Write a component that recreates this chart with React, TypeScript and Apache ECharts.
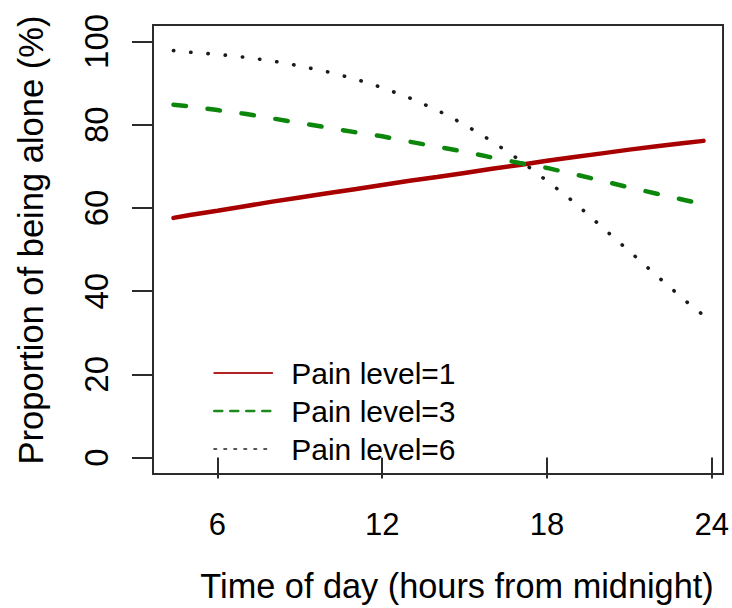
import React, { useEffect, useRef } from "react";
import * as echarts from "echarts";

const hours = [4.4, 5, 6, 7, 8, 9, 10, 11, 12, 13, 14, 15, 16, 17, 18, 19, 20, 21, 22, 23, 23.7];
const painLevel1 = [57.6, 58.3, 59.3, 60.4, 61.5, 62.5, 63.5, 64.5, 65.5, 66.5, 67.4, 68.4, 69.4, 70.3, 71.3, 72.2, 73.1, 74.0, 74.8, 75.6, 76.1];
const painLevel3 = [84.8, 84.4, 83.5, 82.6, 81.5, 80.4, 79.3, 78.2, 77.2, 75.9, 74.7, 73.5, 72.1, 70.8, 69.6, 68.1, 66.5, 64.9, 63.4, 61.9, 60.9];
const painLevel6 = [97.8, 97.4, 96.9, 96.2, 95.3, 94.1, 92.7, 91.0, 88.9, 86.4, 83.5, 80.0, 76.0, 71.5, 66.5, 61.3, 55.4, 49.6, 43.7, 37.9, 34.2];
const seriesNames = ["Pain level=1", "Pain level=3", "Pain level=6"];
const xTicks = [6, 12, 18, 24];
const yTicks = [0, 20, 40, 60, 80, 100];

const FONT = '"Liberation Sans", Arial, Helvetica, sans-serif';

export default function App() {
  const ref = useRef<HTMLDivElement>(null);
  useEffect(() => {
    document.body.style.margin = "0";
    const chart = echarts.init(ref.current!, null, { renderer: "svg" });
    const pairs = (vals: number[]) => hours.map((h, i) => [h, vals[i]]);
    chart.setOption({
      animation: false,
      backgroundColor: "#ffffff",
      textStyle: { fontFamily: FONT },
      grid: {
        left: 153,
        top: 25,
        width: 577,
        height: 452,
        show: true,
        borderColor: "#2b2b2b",
        borderWidth: 2,
        backgroundColor: "transparent",
      },
      legend: {
        orient: "vertical",
        left: 213,
        top: 358,
        padding: 0,
        itemWidth: 58,
        itemHeight: 14,
        itemGap: 8,
        textStyle: { fontSize: 30, color: "#000", fontFamily: FONT, lineHeight: 30, padding: [0, 0, 0, 14] },
        data: [
          { name: seriesNames[0], lineStyle: { width: 2, type: "solid", color: "#b22222" }, itemStyle: { opacity: 0 } },
          { name: seriesNames[1], lineStyle: { width: 2.5, type: [8, 8], color: "#1a8a1a" }, itemStyle: { opacity: 0 } },
          { name: seriesNames[2], lineStyle: { width: 2.2, type: [2, 8], color: "#555" }, itemStyle: { opacity: 0 } },
        ],
      },
      xAxis: {
        type: "value",
        min: 3.655,
        max: 24.41,
        name: "Time of day (hours from midnight)",
        nameLocation: "middle",
        nameGap: 95,
        nameTextStyle: { fontSize: 34.3, color: "#000", fontFamily: FONT, padding: [0, 0, 0, 38] },
        axisLine: { show: false },
        axisTick: { show: true, inside: false, length: 21, customValues: xTicks, lineStyle: { color: "#2b2b2b", width: 2 } },
        axisLabel: { customValues: xTicks, margin: 35, fontSize: 31, color: "#000", fontFamily: FONT },
        splitLine: { show: false },
      },
      yAxis: {
        type: "value",
        min: -3.94,
        max: 103.94,
        name: "Proportion of being alone (%)",
        nameLocation: "middle",
        nameGap: 105,
        nameRotate: 90,
        nameTextStyle: { fontSize: 34.5, color: "#000", fontFamily: FONT, padding: [0, 0, 0, 19] },
        axisLine: { show: false },
        axisTick: { show: true, inside: false, length: 21, customValues: yTicks, lineStyle: { color: "#2b2b2b", width: 2 } },
        axisLabel: { customValues: yTicks, rotate: 90, margin: 40, fontSize: 33, color: "#000", fontFamily: FONT },
        splitLine: { show: false },
      },
      series: [
        {
          name: seriesNames[0],
          type: "line",
          data: pairs(painLevel1),
          showSymbol: false,
          symbol: "none",
          lineStyle: { color: "#a80000", width: 4.5, cap: "round" },
          itemStyle: { color: "#a80000" },
        },
        {
          name: seriesNames[1],
          type: "line",
          data: pairs(painLevel3),
          showSymbol: false,
          symbol: "none",
          lineStyle: { color: "#0c870c", width: 4.5, type: [12.5, 21.8], cap: "round" },
          itemStyle: { color: "#0c870c" },
        },
        {
          name: seriesNames[2],
          type: "line",
          data: pairs(painLevel6),
          showSymbol: false,
          symbol: "none",
          lineStyle: { color: "#1a1a1a", width: 3.6, type: [0.3, 17.0], cap: "round" },
          itemStyle: { color: "#1a1a1a" },
        },
      ],
    });
    return () => chart.dispose();
  }, []);
  return <div ref={ref} style={{ width: 732, height: 608 }} />;
}
